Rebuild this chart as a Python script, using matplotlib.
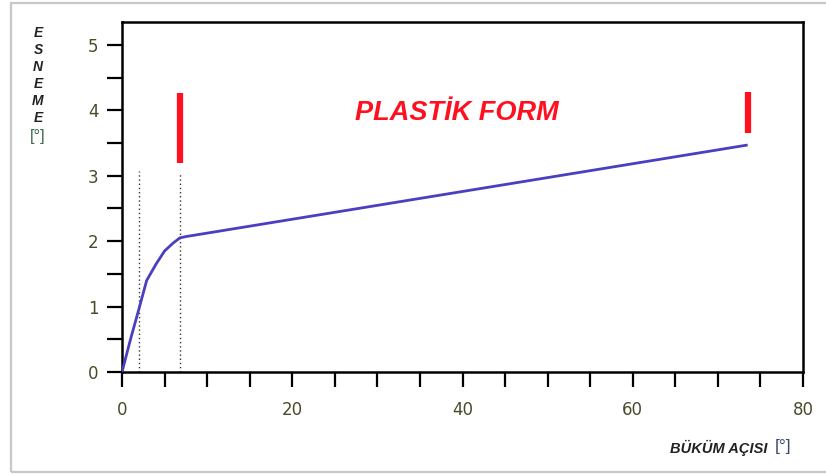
import matplotlib
matplotlib.use("Agg")
import matplotlib.pyplot as plt
from matplotlib.patches import Rectangle
from matplotlib.ticker import MultipleLocator

# Data
bend_angle = [0, 1, 2, 2.9, 4, 5, 6, 6.8, 7.5, 73.5]
deflection = [0, 0.5, 0.97, 1.4, 1.65, 1.85, 1.97, 2.05, 2.07, 3.47]
dotted_x = [2, 6.8]
dotted_top = [3.07, 3.02]
red_bars_x = [6.8, 73.5]
red_bars_lo = [3.2, 3.65]
red_bars_hi = [4.27, 4.28]
x_ticks = [0, 20, 40, 60, 80]
y_ticks = [0, 1, 2, 3, 4, 5]
annotation = "PLASTİK FORM"
ylabel_letters = ["E", "S", "N", "E", "M", "E"]

fig = plt.figure(figsize=(8.26, 4.75), dpi=100)
fig.patch.set_facecolor("white")

# outer light gray frame
fig.patches.append(Rectangle((11/826, 3/475), 1.2, 469/475, transform=fig.transFigure,
                             fill=False, edgecolor="#c8c8c8", linewidth=1.6, zorder=0))

ax = fig.add_axes([122/826, 1 - 372/475, (803-122)/826, (372-22)/475])
ax.set_xlim(0, 80)
ax.set_ylim(0, 5.35)

for s in ax.spines.values():
    s.set_linewidth(1.8)
    s.set_color("black")

ax.xaxis.set_major_locator(MultipleLocator(20))
ax.xaxis.set_minor_locator(MultipleLocator(5))
ax.yaxis.set_major_locator(MultipleLocator(1))
ax.yaxis.set_minor_locator(MultipleLocator(0.5))
ax.tick_params(which="both", direction="out", width=1.6, length=11, color="black")
ax.tick_params(axis="x", which="both", pad=10, top=False)
ax.tick_params(axis="y", which="both", right=False, pad=6)
ax.set_xticks(x_ticks)
ax.set_yticks(y_ticks)
ax.set_xticklabels([str(v) for v in x_ticks], fontsize=12, color="#4a4a2a", fontfamily="DejaVu Sans")
ax.set_yticklabels([str(v) for v in y_ticks], fontsize=12, color="#4a4a2a", fontfamily="DejaVu Sans")

# dotted guides
for xv, top in zip(dotted_x, dotted_top):
    ax.plot([xv, xv], [0, top], linestyle=(0, (1, 2)), color="#333333", linewidth=1.0, zorder=2)

# curve
ax.plot(bend_angle, deflection, color="#4a3fc0", linewidth=2.0, zorder=3, solid_capstyle="butt")

# red bars
for xv, lo, hi in zip(red_bars_x, red_bars_lo, red_bars_hi):
    ax.plot([xv, xv], [lo, hi], color="#ff1020", linewidth=4.5, solid_capstyle="butt", zorder=4)

ax.text(39.3, 3.96, annotation, color="#ff1020", fontsize=19.5, fontweight="bold",
        fontstyle="italic", fontfamily="Liberation Sans", ha="center", va="center")

# stacked y label
y0 = 33
for i, ch in enumerate(ylabel_letters):
    fig.text(38/826, 1 - (y0 + i*17)/475, ch, fontsize=10, fontweight="bold", fontstyle="italic",
             fontfamily="Liberation Sans", ha="center", va="center", color="#222222")
fig.text(38/826, 1 - (y0 + 6*17 + 2)/475, "[°]", fontsize=12, fontfamily="Liberation Sans",
         ha="center", va="center", color="#3a6a4a")

# x label
fig.text(767/826, 1 - 448/475, "BÜKÜM AÇISI", fontsize=10.5, fontweight="bold", fontstyle="italic",
         fontfamily="Liberation Sans", ha="right", va="center", color="#222222")
fig.text(775/826, 1 - 447/475, "[°]", fontsize=12.5, fontfamily="Liberation Sans",
         ha="left", va="center", color="#3a4a6a")

fig.savefig("out.png", dpi=100, facecolor="white")
